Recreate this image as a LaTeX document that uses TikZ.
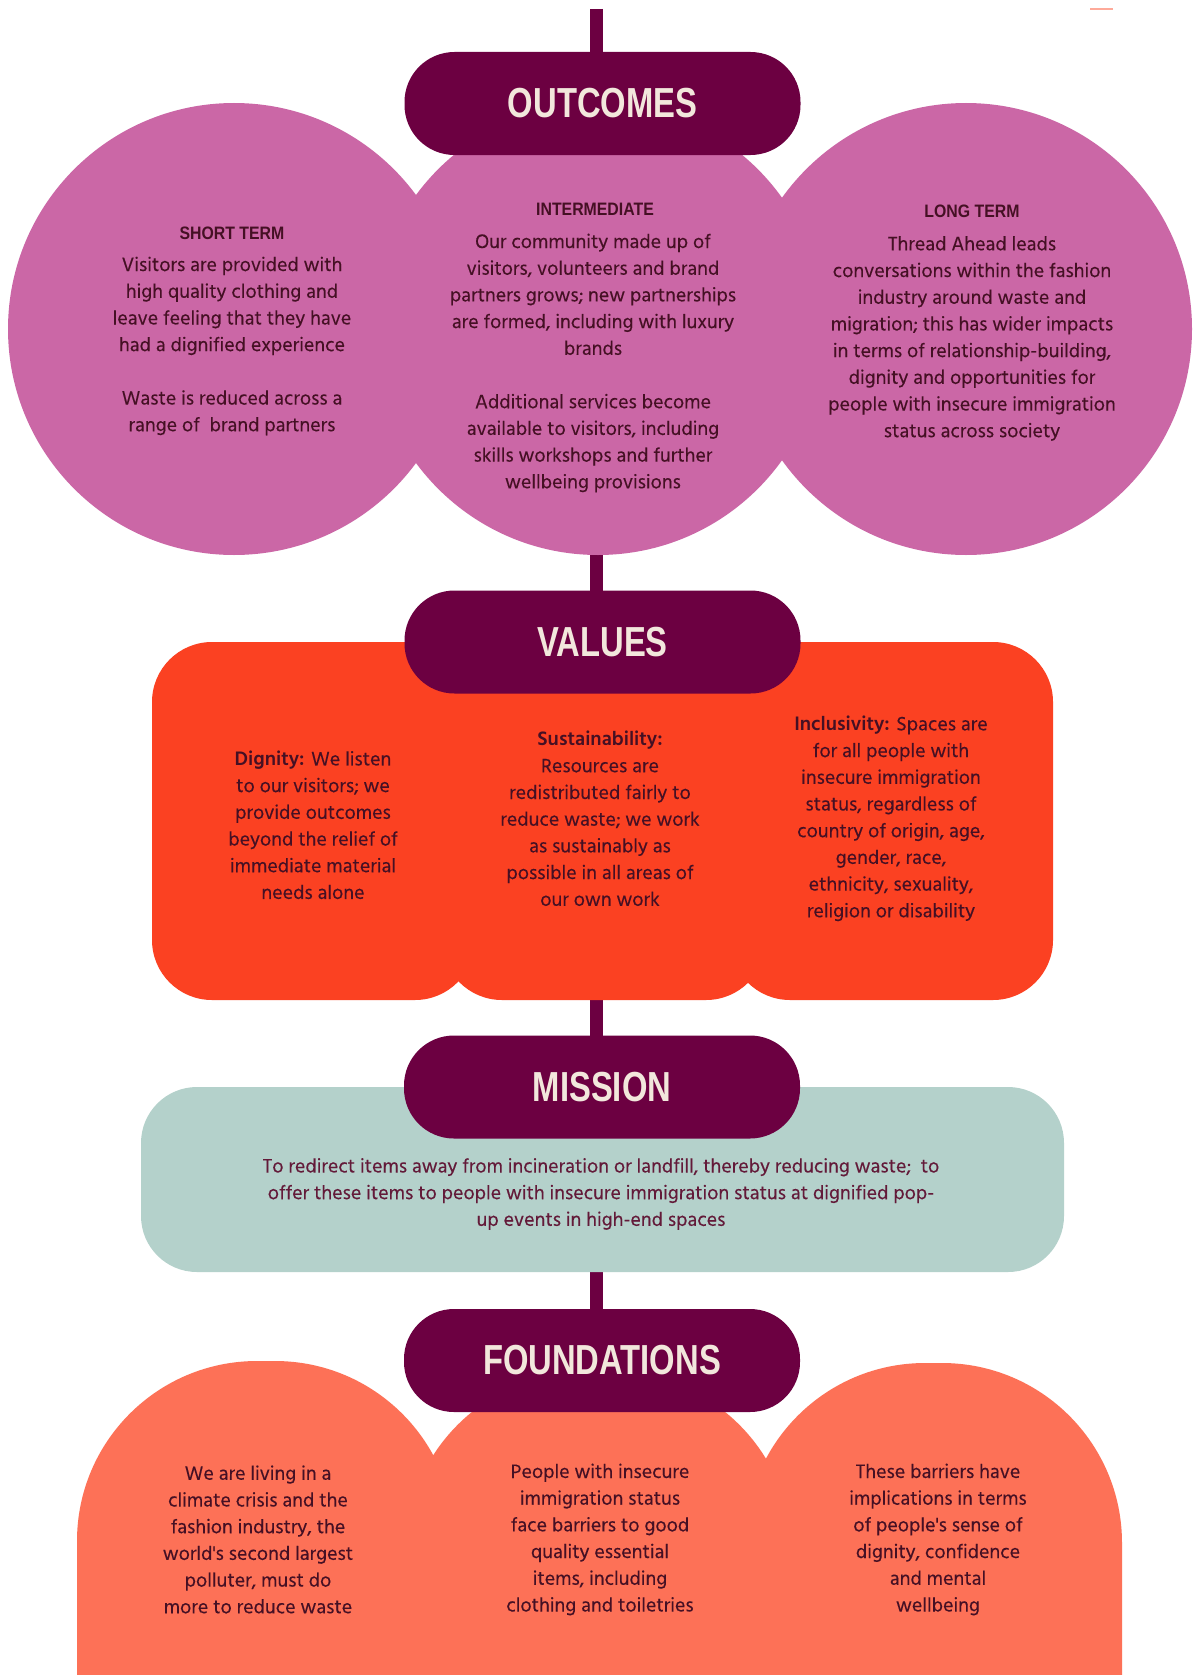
\documentclass[tikz,border=0pt]{standalone}
\usepackage{fontspec}
\newfontfamily\bodyfont{Hind Madurai}[UprightFeatures={FakeBold=0.25}]
\newfontfamily\headfont{Liberation Sans}[FakeStretch=0.78]
\newfontfamily\subfont{Liberation Sans}[FakeStretch=0.88]
\definecolor{plum}{HTML}{6C0041}
\definecolor{pinkc}{HTML}{CB67A6}
\definecolor{orng}{HTML}{FB4122}
\definecolor{teal}{HTML}{B4D1CB}
\definecolor{salmon}{HTML}{FD7157}
\definecolor{ink}{HTML}{451024}
\definecolor{missionink}{HTML}{631A39}
\definecolor{cream}{HTML}{F2E7DC}
\pgfdeclarelayer{back}
\pgfdeclarelayer{bg}
\pgfsetlayers{back,bg,main}
\begin{document}
\begin{tikzpicture}[x=1pt,y=-1pt,
  pill/.style={rectangle, rounded corners=50pt, minimum width=396pt, minimum height=103pt, inner sep=0pt, fill=plum, text=cream, font=\headfont\bfseries\fontsize{42}{42}\selectfont},
  circ/.style={circle, fill=pinkc, minimum size=452pt, inner sep=0pt},
  vbox/.style={rectangle, rounded corners=60pt, fill=orng, minimum height=358pt, inner sep=0pt},
  conn/.style={draw=plum, line width=13pt},
  subhead/.style={text=ink, inner sep=0pt, font=\subfont\bfseries\fontsize{18}{20}\selectfont},
  body/.style={text=ink, inner sep=0pt, align=center, font=\bodyfont\fontsize{20}{26.7}\selectfont},
]
\begin{pgfonlayer}{back}
\fill[white] (0,0) rectangle (1192,1675);
\end{pgfonlayer}
\useasboundingbox (0,0) rectangle (1192,1675);
\clip (0,0) rectangle (1192,1675);

% ---------- OUTCOMES ----------
\node[circ] (c2) at (598,329) {};
\node[circ] (c1) at (234,329) {};
\node[circ] (c3) at (966,329) {};
\node[pill] (outcomes) at (602.5,103.5) {OUTCOMES};

\node[subhead] (st) at (232,233) {SHORT TERM};
\node[body] (stbody) at (232,346) {Visitors are provided with\\ high quality clothing and\\ leave feeling that they have\\ had a dignified experience\\[26.7pt] Waste is reduced across a\\ range of\ \ brand partners};

\node[subhead] (im) at (595,209) {INTERMEDIATE};
\node[body] (imbody) at (593,363) {Our community made up of\\ visitors, volunteers and brand\\ partners grows; new partnerships\\ are formed, including with luxury\\ brands\\[26.7pt] Additional services become\\ available to visitors, including\\ skills workshops and further\\ wellbeing provisions};

\node[subhead] (lt) at (972,211) {LONG TERM};
\node[body] (ltbody) at (972,338.5) {Thread Ahead leads\\ conversations within the fashion\\ industry around waste and\\ migration; this has wider impacts\\ in terms of relationship-building,\\ dignity and opportunities for\\ people with insecure immigration\\ status across society};

% ---------- VALUES ----------
\node[vbox, minimum width=323pt] (v1) at (313.5,821) {};
\node[vbox, minimum width=323pt] (v3) at (891.5,821) {};
\node[vbox, minimum width=324pt] (v2) at (604,821) {};
\node[pill] (values) at (602.5,642) {VALUES};

\node[body] (v1t) at (313,825) {\textbf{Dignity:} We listen\\ to our visitors; we\\ provide outcomes\\ beyond the relief of\\ immediate material\\ needs alone};
\node[body] (v2t) at (600,818.5) {\textbf{Sustainability:}\\ Resources are\\ redistributed fairly to\\ reduce waste; we work\\ as sustainably as\\ possible in all areas of\\ our own work};
\node[body] (v3t) at (891,818.5) {\textbf{Inclusivity:} Spaces are\\ for all people with\\ insecure immigration\\ status, regardless of\\ country of origin, age,\\ gender, race,\\ ethnicity, sexuality,\\ religion or disability};

% ---------- MISSION ----------
\node[rectangle, rounded corners=56pt, fill=teal, minimum width=923pt, minimum height=185pt, inner sep=0pt] (mbox) at (602.5,1179.5) {};
\node[pill] (mission) at (602,1087) {MISSION};
\node[body, text=missionink] (mt) at (601,1194) {To redirect items away from incineration or landfill, thereby reducing waste;\ \ to\\ offer these items to people with insecure immigration status at dignified pop-\\ up events in high-end spaces};

% ---------- FOUNDATIONS ----------
\fill[salmon, rounded corners=180pt] (405,1700) -- (405,1372) -- (792,1372) -- (792,1700);
\fill[salmon, rounded corners=180pt] (77,1700) -- (77,1361) -- (455,1361) -- (455,1700);
\fill[salmon, rounded corners=180pt] (745,1700) -- (745,1363) -- (1122,1363) -- (1122,1700);
\node[pill] (foundations) at (602,1360.5) {FOUNDATIONS};

\node[body] (f1) at (258,1539.5) {We are living in a\\ climate crisis and the\\ fashion industry, the\\ world's second largest\\ polluter, must do\\ more to reduce waste};
\node[body] (f2) at (600,1539.5) {People with insecure\\ immigration status\\ face barriers to good\\ quality essential\\ items, including\\ clothing and toiletries};
\node[body] (f3) at (938,1539.5) {These barriers have\\ implications in terms\\ of people's sense of\\ dignity, confidence\\ and mental\\ wellbeing};

% faint mark at top right
\draw[salmon!60, line width=1.5pt] (1090,9) -- (1113,9);

% ---------- connectors (spine) ----------
\coordinate (topend) at (596,9);
\begin{pgfonlayer}{bg}
\draw[conn] (topend) -- (topend |- outcomes.center);
\draw[conn] (topend |- outcomes.center) -- (topend |- values.center);
\draw[conn] (topend |- values.center) -- (topend |- mission.center);
\draw[conn] (topend |- mission.center) -- (topend |- foundations.center);
\end{pgfonlayer}
\end{tikzpicture}
\end{document}
